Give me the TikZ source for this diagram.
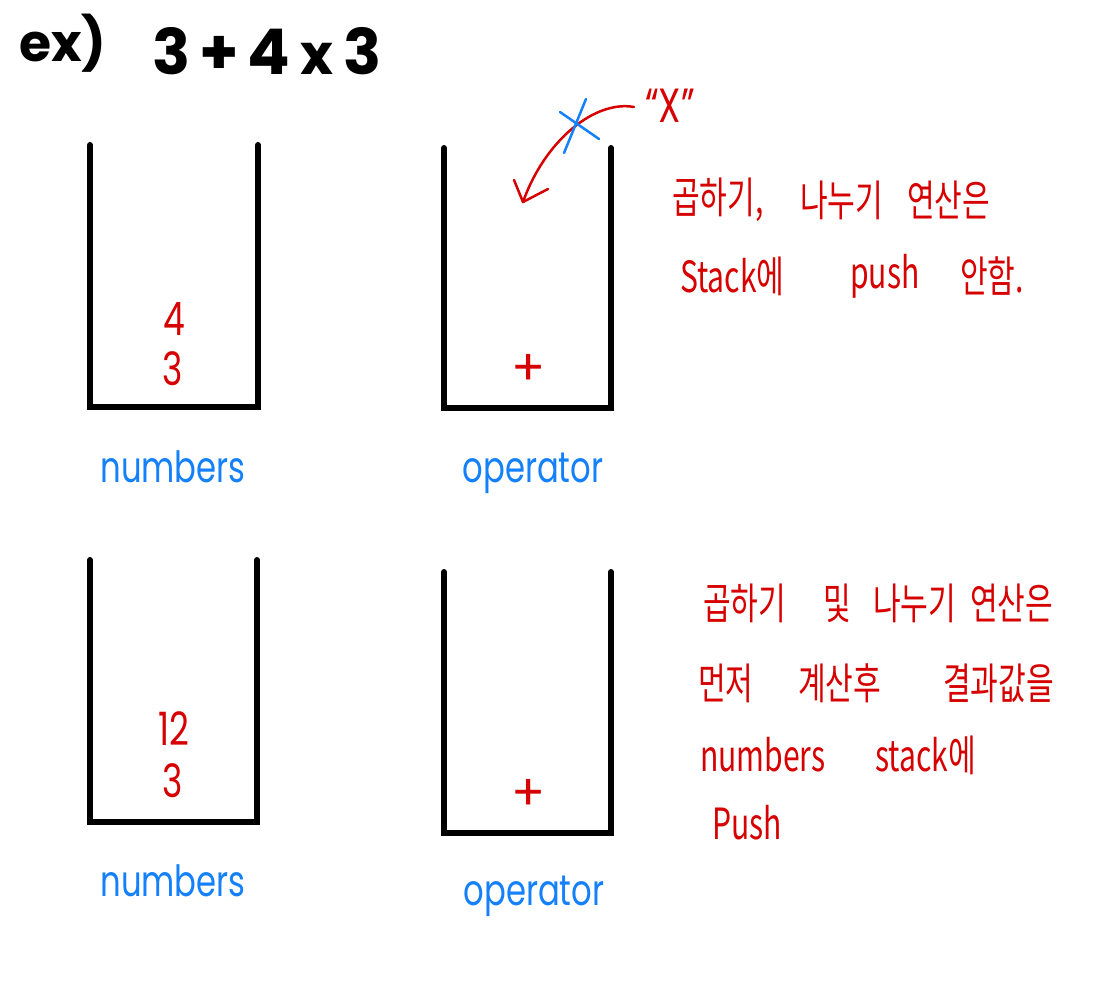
\documentclass[tikz,border=0pt]{standalone}
\usepackage{fontspec}
\setmainfont{Poppins}
\newfontfamily\kr[FakeStretch=0.7]{Noto Sans CJK KR}
\newfontfamily\hand[FakeStretch=0.75]{Poppins}
\definecolor{inkred}{RGB}{214,0,0}
\definecolor{inkblue}{RGB}{20,128,250}
\begin{document}
\begin{tikzpicture}[x=1pt,y=-1pt,
  stackline/.style={line width=6pt, line cap=round, line join=miter},
  lbl/.style={text=inkblue, font=\hand\fontsize{43}{50}\selectfont, anchor=base, inner sep=0pt},
  val/.style={text=inkred, font=\hand\fontsize{46}{52}\selectfont, anchor=base, inner sep=0pt},
  plusval/.style={text=inkred, font=\fontsize{50}{56}\selectfont, anchor=center, inner sep=0pt},
  note/.style={text=inkred, font=\kr\fontsize{43}{48}\selectfont, anchor=west, inner sep=0pt},
  titletext/.style={font=\bfseries\fontsize{60}{70}\selectfont, anchor=base west, inner sep=0pt},
  redline/.style={draw=inkred, line width=2.5pt, line cap=round, line join=round},
  blueline/.style={draw=inkblue, line width=2.5pt, line cap=round}]
\useasboundingbox (0,0) rectangle (1119,1000);

% title
\node[titletext, font=\bfseries\fontsize{52}{60}\selectfont] (ex) at (19,62) {ex)};
\node[titletext, font=\bfseries\fontsize{63}{70}\selectfont] (expr) at (152,75)
  {3\hspace{9pt}+\hspace{9pt}4\hspace{10pt}{\fontsize{56}{60}\selectfont x}\hspace{10pt}3};

% stacks
\coordinate (s1tl) at (90,145);  \coordinate (s1bl) at (90,407);
\coordinate (s1br) at (258,407); \coordinate (s1tr) at (258,145);
\coordinate (s2tl) at (444,148); \coordinate (s2bl) at (444,408);
\coordinate (s2br) at (611,408); \coordinate (s2tr) at (611,148);
\coordinate (s3tl) at (90,560);  \coordinate (s3bl) at (90,822);
\coordinate (s3br) at (257,822); \coordinate (s3tr) at (257,560);
\coordinate (s4tl) at (444,572); \coordinate (s4bl) at (444,833);
\coordinate (s4br) at (611,833); \coordinate (s4tr) at (611,572);
\draw[stackline] (s1tl) -- (s1bl) -- (s1br) -- (s1tr);
\draw[stackline] (s2tl) -- (s2bl) -- (s2br) -- (s2tr);
\draw[stackline] (s3tl) -- (s3bl) -- (s3br) -- (s3tr);
\draw[stackline] (s4tl) -- (s4bl) -- (s4br) -- (s4tr);

% stack contents
\node[val] (v4) at (174,335) {4};
\node[val] (v3a) at (173,385) {3};
\node[plusval] (p1) at (529,370) {+};
\node[val] (v12) at (174,745) {12};
\node[val] (v3b) at (173,797) {3};
\node[plusval] (p2) at (529,795) {+};

% labels
\node[lbl] (n1) at (173,482) {numbers};
\node[lbl] (o1) at (533,482) {operator};
\node[lbl] (n2) at (173,896) {numbers};
\node[lbl] (o2) at (534,905) {operator};

% rejected push arrow
\node[text=inkred, font=\hand\fontsize{48}{52}\selectfont, anchor=base, inner sep=0pt] (xq) at (670,123) {“X”};
\coordinate (astart) at (634,107);
\coordinate (atip) at (523,202);
\coordinate (abarbl) at (514,180);
\coordinate (abarbr) at (548,189);
\draw[redline] (astart) .. controls (595,100) and (545,140) .. (atip);
\draw[redline] (abarbl) -- (atip) -- (abarbr);
\coordinate (c1a) at (560,112); \coordinate (c1b) at (599,139);
\coordinate (c2a) at (586,99);  \coordinate (c2b) at (564,153);
\draw[blueline] (c1a) -- (c1b);
\draw[blueline] (c2a) -- (c2b);

% note 1
\node[note] (t1a) at (672,200) {곱하기,};
\node[note] (t1b) at (800,200) {나누기};
\node[note] (t1c) at (907,200) {연산은};
\node[note] (t2a) at (680,276) {Stack에};
\node[note] (t2b) at (850,276) {push};
\node[note] (t2c) at (960,276) {안함.};

% note 2
\node[note] (u1a) at (703,603) {곱하기};
\node[note] (u1b) at (823,603) {및};
\node[note] (u1c) at (873,603) {나누기};
\node[note] (u1d) at (970,603) {연산은};
\node[note] (u2a) at (698,683) {먼저};
\node[note] (u2b) at (798,683) {계산후};
\node[note] (u2c) at (943,683) {결과값을};
\node[note] (u3a) at (700,755) {numbers};
\node[note] (u3b) at (875,755) {stack에};
\node[note] (u4a) at (712,823) {Push};
\end{tikzpicture}
\end{document}
